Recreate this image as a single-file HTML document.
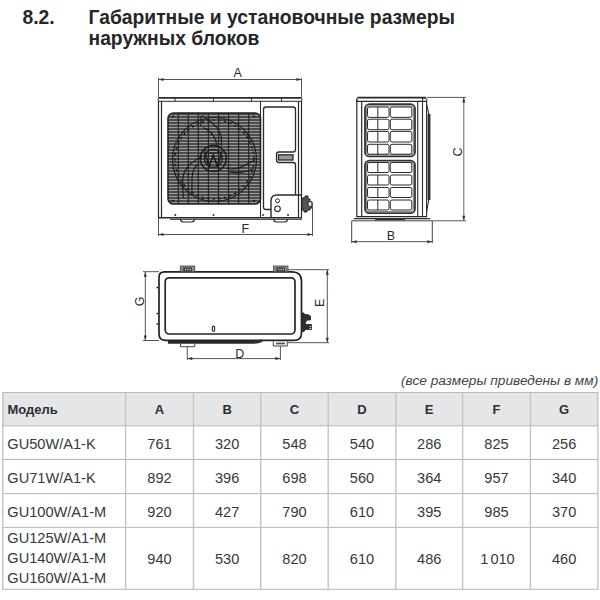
<!DOCTYPE html>
<html><head><meta charset="utf-8">
<style>
html,body{margin:0;padding:0;background:#fff;width:600px;height:600px;overflow:hidden;position:relative;font-family:"Liberation Sans",sans-serif;color:#333}
svg{position:absolute;left:0;top:0}
</style></head><body>

<svg width="600" height="600" viewBox="0 0 600 600">
<defs>
<pattern id="hs" x="0" y="113" width="10" height="3" patternUnits="userSpaceOnUse">
<rect x="0" y="0" width="10" height="3" fill="#4c4c4c"/>
<rect x="0" y="2" width="10" height="1" fill="#9c9c9c"/>
</pattern>
</defs>
<g fill="none" stroke="#2a2a2a" stroke-width="1">
<!-- ===== FRONT VIEW ===== -->
<!-- dim A -->
<line x1="158.5" y1="79.5" x2="301.5" y2="79.5" stroke="#555"/>
<line x1="158.5" y1="78" x2="158.5" y2="97" stroke="#555"/>
<line x1="301.5" y1="78" x2="301.5" y2="97" stroke="#555"/>
<path d="M158.5 79.5 l5 -1.5 v3z M301.5 79.5 l-5 -1.5 v3z" fill="#333" stroke="none"/>
<!-- top cap -->
<path d="M158.5 97.8 H301.5" stroke-width="1.8"/>
<path d="M158.5 101.3 H301.5"/>
<path d="M158.5 97.8 q-1 1.8 0 3.5 M301.5 97.8 q1 1.8 0 3.5"/>
<path d="M175 98 v3 M213.5 98 v3 M251.5 98 v3 M281.5 98 v3"/>
<!-- sides -->
<path d="M158.5 101 V218 M161.5 101 V218" stroke-width="1.2"/>
<path d="M298.5 101 V218 M301.5 101 V218" stroke-width="1.2"/>
<path d="M260.5 101 V218"/>
<!-- bottom -->
<path d="M158.5 217.8 H302" stroke-width="1.6"/>
<path d="M170 219.3 H302"/>
<!-- feet -->
<path d="M180.5 219 q0 3 3 3 h8 q3 0 3 -3 M273.5 219 q0 3 3 3 h8 q3 0 3 -3" stroke-width="1.2"/>
<path d="M175.3 215 h0.1 M213.5 215 h0.1 M263 215 h0.1 M288 215 h0.1" stroke-width="1.8" stroke-linecap="round"/>
<!-- grille -->
<rect x="168" y="113" width="92.5" height="91" rx="5.5" fill="url(#hs)" stroke="#222" stroke-width="1.6"/>
<path d="M178.3 113 V204 M188.3 113 V204 M198.3 113 V204 M208.4 113 V204 M218.5 113 V204 M228.5 113 V204 M238.6 113 V204 M248.7 113 V204" stroke="#262626" stroke-width="1.2"/>
<circle cx="214.5" cy="159.5" r="42" stroke="#1e1e1e" stroke-width="1.2"/>
<circle cx="214.5" cy="159.5" r="39.5" stroke="#1e1e1e" stroke-width="1.6" stroke-dasharray="2 2.5" pathLength="200" stroke-dashoffset="0"/>
<circle cx="213.3" cy="158.5" r="13" stroke="#1a1a1a" stroke-width="1.5"/>
<circle cx="213.3" cy="158.5" r="9" stroke="#1e1e1e" stroke-width="1.3"/>
<path d="M204.5 151 L209 166.5 L213.3 155 L217.6 166.5 L222 151" stroke="#1a1a1a" stroke-width="1.5"/>
<path d="M207 153 H219.6" stroke="#1a1a1a" stroke-width="1.1"/>
<path d="M200.8 127 V116 H205" stroke="#1e1e1e"/>
<path d="M205 118 C212 122 219 128 221 136 C222 140 221.5 143 221 146" stroke="#1e1e1e" stroke-width="1.2"/>
<path d="M203.3 127.6 C209 130 214 135 216 141 L216.5 146" stroke="#1e1e1e" stroke-width="1.2"/>
<path d="M225.5 168 C231 170 240 169 247 164.3 C250 162 252 161 254.5 160.5" stroke="#1e1e1e" stroke-width="1.2"/>
<path d="M229.3 171.8 C235 173 245 172.5 253.6 169" stroke="#1e1e1e" stroke-width="1.2"/>
<path d="M202 157 C194 160 187 166 184 173 C182 179 182.5 190 183.5 198" stroke="#1e1e1e" stroke-width="1.2"/>
<path d="M198 164 C195 167 193 170 192.5 174 C191.5 182 192 190 192 196" stroke="#1e1e1e" stroke-width="1.2"/>
<path d="M172 117 l2 -1.5 M255 117 l-2 -1.5 M172 200 l2 1.5 M255 200 l-2 1.5" stroke="#111" stroke-width="1.5"/>
<!-- door -->
<path d="M266 107 H293 Q295.5 107 295.5 109.5 V149.5 Q295.5 152 293 152 H279 Q276.5 152 276.5 154.5 V160 Q276.5 162.5 279 162.5 H293 Q295.5 162.5 295.5 165 V195 M263.5 109.5 Q263.5 107 266 107 M263.5 109.5 V207 Q263.5 209.5 266 209.5 H271" stroke-width="1.3"/>
<rect x="278.5" y="154.8" width="14.5" height="5.2" fill="#999" stroke-width="1.3"/>
<!-- valve box -->
<path d="M271 217.5 V201 Q271 195 277 195 H301.5" stroke-width="1.4"/>
<circle cx="277.5" cy="200.8" r="2"/>
<circle cx="277.5" cy="208.8" r="2.8" stroke-width="1.2"/>
<!-- valves -->
<path d="M302 198 h3 v-2 h3 v3 h2 v3 h2 v6 h-2 v2 h-3 v2 h-3 v-2 h-2 z" fill="#555" stroke="#222"/>
<rect x="308" y="201.5" width="4" height="5" rx="1.5" fill="#ddd" stroke="#222"/>
<!-- dim F -->
<line x1="158.5" y1="234.5" x2="312.5" y2="234.5" stroke="#555"/>
<line x1="158.5" y1="218" x2="158.5" y2="236" stroke="#555"/>
<line x1="312.5" y1="205" x2="312.5" y2="236" stroke="#555"/>
<path d="M158.5 234.5 l5 -1.5 v3z M312.5 234.5 l-5 -1.5 v3z" fill="#333" stroke="none"/>
</g>
<g font-family="Liberation Sans" font-size="12.5" fill="#2a2a2a">
<text x="233.5" y="77.3">A</text>
<text x="241.5" y="232.8">F</text>
</g>

<g fill="none" stroke="#2a2a2a" stroke-width="1">
<!-- ===== SIDE VIEW ===== -->
<path d="M357.5 97.6 H426" stroke-width="1.6"/>
<path d="M357.5 97.6 q-1.3 1.8 -0.5 3.8 M422.5 97.8 H425 q1.8 0 1.8 1.8 V101.5"/>
<path d="M356.5 101.4 H427" stroke-width="1.2"/>
<path d="M356.8 99 V217 M361.7 101.4 V217" stroke-width="1.2"/>
<path d="M417.75 101.4 V217 M422.5 97.8 V217 M426.6 101.4 V217" stroke-width="1.1"/>
<path d="M426.8 104.5 L428.7 113.5 V200 L426.6 212" stroke-width="1.1"/>
<rect x="427.6" y="114" width="2.8" height="86" fill="#2e2e2e" stroke="none"/>
<rect x="365" y="104.2" width="50" height="52.2" rx="4.5" stroke="#333" stroke-width="1.8"/>
<rect x="366.6" y="105.8" width="46.8" height="49" rx="3.2" stroke="#8a8a8a" stroke-width="1.2"/>
<rect x="367.5" y="107" width="21.5" height="10.400000000000006" rx="1.8"/>
<rect x="390.3" y="107" width="21.5" height="10.400000000000006" rx="1.8"/>
<path d="M377.8 107 V117.4"/>
<rect x="367.5" y="119.2" width="21.5" height="10.499999999999986" rx="1.8"/>
<rect x="390.3" y="119.2" width="21.5" height="10.499999999999986" rx="1.8"/>
<path d="M377.8 119.2 V129.7"/>
<rect x="367.5" y="131.4" width="21.5" height="10.599999999999994" rx="1.8"/>
<rect x="390.3" y="131.4" width="21.5" height="10.599999999999994" rx="1.8"/>
<path d="M377.8 131.4 V142"/>
<rect x="367.5" y="144.3" width="21.5" height="9.899999999999977" rx="1.8"/>
<rect x="390.3" y="144.3" width="21.5" height="9.899999999999977" rx="1.8"/>
<path d="M377.8 144.3 V154.2"/>
<rect x="365" y="160.6" width="50" height="52.6" rx="4.5" stroke="#333" stroke-width="1.8"/>
<rect x="366.6" y="162.2" width="46.8" height="49.4" rx="3.2" stroke="#8a8a8a" stroke-width="1.2"/>
<rect x="367.5" y="162.5" width="21.5" height="10.0" rx="1.8"/>
<rect x="390.3" y="162.5" width="21.5" height="10.0" rx="1.8"/>
<path d="M377.8 162.5 V172.5"/>
<rect x="367.5" y="175" width="21.5" height="10" rx="1.8"/>
<rect x="390.3" y="175" width="21.5" height="10" rx="1.8"/>
<path d="M377.8 175 V185"/>
<rect x="367.5" y="187.5" width="21.5" height="10.0" rx="1.8"/>
<rect x="390.3" y="187.5" width="21.5" height="10.0" rx="1.8"/>
<path d="M377.8 187.5 V197.5"/>
<rect x="367.5" y="200" width="21.5" height="10" rx="1.8"/>
<rect x="390.3" y="200" width="21.5" height="10" rx="1.8"/>
<path d="M377.8 200 V210"/>

<path d="M356.5 216.7 H427" stroke-width="1.2"/>
<path d="M354 218.6 H430" stroke-width="1.2"/>
<path d="M375 219.3 H405" stroke-width="2" stroke="#333"/>
<path d="M351.7 243 V220.8 H432.3 V243" stroke="#444"/>
<!-- dim B -->
<line x1="351.7" y1="241.7" x2="432.3" y2="241.7" stroke="#555"/>
<path d="M351.7 241.7 l5 -1.5 v3z M432.3 241.7 l-5 -1.5 v3z" fill="#333" stroke="none"/>
<!-- dim C -->
<path d="M427 97.4 H466 M432.5 220.8 H466" stroke="#555"/>
<line x1="463.8" y1="97.4" x2="463.8" y2="220.8" stroke="#666"/>
<path d="M463.8 97.4 l-1.5 5 h3z M463.8 220.8 l-1.5 -5 h3z" fill="#333" stroke="none"/>
</g>
<g font-family="Liberation Sans" font-size="12.5" fill="#2a2a2a">
<text x="386.8" y="239.6">B</text>
<text transform="translate(461.8 156.6) rotate(-90)">C</text>
</g>

<g fill="none" stroke="#222" stroke-width="1">
<!-- ===== TOP VIEW ===== -->
<path d="M159 277.3 V334 Q159 340.4 165.5 340.4 H294 Q301.5 340.4 301.5 333 V281 Q301.5 271.8 292 271.8 H164.5 Q159 271.8 159 277.3z" stroke-width="1.7"/>
<rect x="165.2" y="277.8" width="129.8" height="56.2" rx="4" stroke="#262626" stroke-width="1.7"/>
<!-- tabs top -->
<rect x="180.3" y="266" width="14.5" height="5.8" fill="#8a8a8a" stroke="#444" stroke-width="0.8"/>
<rect x="273.5" y="266" width="14.5" height="5.8" fill="#8a8a8a" stroke="#444" stroke-width="0.8"/>
<rect x="183.3" y="267.5" width="8.5" height="4" fill="#333" stroke="none"/>
<rect x="276.5" y="267.5" width="8.5" height="4" fill="#333" stroke="none"/>
<path d="M185 269.5 h1.2 M187.3 269.5 h1.2 M189.6 269.5 h1.2 M278.2 269.5 h1.2 M280.5 269.5 h1.2 M282.8 269.5 h1.2" stroke="#ddd" stroke-width="1.6"/>
<!-- bottom band -->
<path d="M168 342.3 H254 Q258 342.3 262 340.5" stroke-width="3" stroke="#2a2a2a"/>
<path d="M180.5 344 V346.7 H194.8 V344 M273.3 341.5 V346 H287.3 V341.5" stroke="#444"/>
<path d="M276 343.5 h9" stroke="#555" stroke-width="1.8"/>
<!-- left marks -->
<path d="M158 287.5 h-1.5 M158 313.5 h-1.5 M158 324 h-1.5" stroke-width="1.3"/>
<!-- drain -->
<rect x="212.3" y="326" width="2.3" height="5.3" rx="1.1" stroke-width="1.1"/>
<!-- valves -->
<path d="M301.5 313 h2.5 v1.5 h3.5 l3 1.5 v4 h-3 l-2 2 v2.5 h6 v5 h-6 l-1.5 2 h-2.5z" fill="#2e2e2e" stroke="#222" stroke-width="0.8"/>
<path d="M309.5 326.5 h1.5 M309.5 328.5 h1.5" stroke="#ddd" stroke-width="1"/>
<!-- dim G -->
<path d="M143 271.7 H159 M143 340.5 H159" stroke="#555"/>
<line x1="145.3" y1="271.7" x2="145.3" y2="340.5" stroke="#555"/>
<path d="M145.3 271.7 l-1.5 5 h3z M145.3 340.5 l-1.5 -5 h3z" fill="#333" stroke="none"/>
<!-- dim E -->
<path d="M288 269.7 H329 M287.5 342.7 H329" stroke="#555"/>
<line x1="327.3" y1="269.7" x2="327.3" y2="342.7" stroke="#555"/>
<path d="M327.3 269.7 l-1.5 5 h3z M327.3 342.7 l-1.5 -5 h3z" fill="#333" stroke="none"/>
<!-- dim D -->
<path d="M187.3 346.7 V360 M280.4 346 V360" stroke="#555"/>
<line x1="187.3" y1="358.6" x2="280.4" y2="358.6" stroke="#555"/>
<path d="M187.3 358.6 l5 -1.5 v3z M280.4 358.6 l-5 -1.5 v3z" fill="#333" stroke="none"/>
</g>
<g font-family="Liberation Sans" font-size="12.5" fill="#2a2a2a">
<text x="235.2" y="357.5">D</text>
<text transform="translate(144 306.2) rotate(-90)">G</text>
<text transform="translate(323.5 307) rotate(-90)">E</text>
</g>
</svg>

<svg width="600" height="600" viewBox="0 0 600 600" style="position:absolute;left:0;top:0">
<rect x="2.75" y="392.5" width="595.05" height="33.30000000000001" fill="#e5e6e8"/>
<rect x="2.0" y="392.0" width="596.55" height="1" fill="#b9b9b9"/>
<rect x="2.0" y="425.3" width="596.55" height="1" fill="#b9b9b9"/>
<rect x="2.0" y="459.0" width="596.55" height="1" fill="#b9b9b9"/>
<rect x="2.0" y="493.1" width="596.55" height="1" fill="#b9b9b9"/>
<rect x="2.0" y="526.9" width="596.55" height="1" fill="#b9b9b9"/>
<rect x="2.0" y="588.8" width="596.55" height="1" fill="#b9b9b9"/>
<rect x="2.05" y="392.0" width="1.4" height="197.79999999999995" fill="#c4c4c4"/>
<rect x="124.89999999999999" y="392.0" width="1.4" height="197.79999999999995" fill="#c4c4c4"/>
<rect x="192.8" y="392.0" width="1.4" height="197.79999999999995" fill="#c4c4c4"/>
<rect x="260.1" y="392.0" width="1.4" height="197.79999999999995" fill="#c4c4c4"/>
<rect x="327.5" y="392.0" width="1.4" height="197.79999999999995" fill="#c4c4c4"/>
<rect x="395.1" y="392.0" width="1.4" height="197.79999999999995" fill="#c4c4c4"/>
<rect x="461.90000000000003" y="392.0" width="1.4" height="197.79999999999995" fill="#c4c4c4"/>
<rect x="529.6999999999999" y="392.0" width="1.4" height="197.79999999999995" fill="#c4c4c4"/>
<rect x="597.0999999999999" y="392.0" width="1.4" height="197.79999999999995" fill="#c4c4c4"/>
<g font-family="Liberation Sans" font-weight="bold" font-size="13" fill="#2e2e2e">
<text x="7.5" y="413.7">Модель</text>
<text x="159.55" y="413.7" text-anchor="middle">A</text>
<text x="227.15" y="413.7" text-anchor="middle">B</text>
<text x="294.50" y="413.7" text-anchor="middle">C</text>
<text x="362.00" y="413.7" text-anchor="middle">D</text>
<text x="429.20" y="413.7" text-anchor="middle">E</text>
<text x="496.50" y="413.7" text-anchor="middle">F</text>
<text x="564.10" y="413.7" text-anchor="middle">G</text>
</g>
<g font-family="Liberation Sans" font-size="14.6" fill="#383838">
<text x="7.3" y="448.7">GU50W/A1-K</text>
<text x="159.55" y="448.7" text-anchor="middle">761</text>
<text x="227.15" y="448.7" text-anchor="middle">320</text>
<text x="294.50" y="448.7" text-anchor="middle">548</text>
<text x="362.00" y="448.7" text-anchor="middle">540</text>
<text x="429.20" y="448.7" text-anchor="middle">286</text>
<text x="496.50" y="448.7" text-anchor="middle">825</text>
<text x="564.10" y="448.7" text-anchor="middle">256</text>
<text x="7.3" y="482.9">GU71W/A1-K</text>
<text x="159.55" y="482.9" text-anchor="middle">892</text>
<text x="227.15" y="482.9" text-anchor="middle">396</text>
<text x="294.50" y="482.9" text-anchor="middle">698</text>
<text x="362.00" y="482.9" text-anchor="middle">560</text>
<text x="429.20" y="482.9" text-anchor="middle">364</text>
<text x="496.50" y="482.9" text-anchor="middle">957</text>
<text x="564.10" y="482.9" text-anchor="middle">340</text>
<text x="7.3" y="516.5">GU100W/A1-M</text>
<text x="159.55" y="516.5" text-anchor="middle">920</text>
<text x="227.15" y="516.5" text-anchor="middle">427</text>
<text x="294.50" y="516.5" text-anchor="middle">790</text>
<text x="362.00" y="516.5" text-anchor="middle">610</text>
<text x="429.20" y="516.5" text-anchor="middle">395</text>
<text x="496.50" y="516.5" text-anchor="middle">985</text>
<text x="564.10" y="516.5" text-anchor="middle">370</text>
<text x="7.3" y="543.1">GU125W/A1-M</text>
<text x="7.3" y="563.3">GU140W/A1-M</text>
<text x="7.3" y="583.4">GU160W/A1-M</text>
<text x="159.55" y="564" text-anchor="middle">940</text>
<text x="227.15" y="564" text-anchor="middle">530</text>
<text x="294.50" y="564" text-anchor="middle">820</text>
<text x="362.00" y="564" text-anchor="middle">610</text>
<text x="429.20" y="564" text-anchor="middle">486</text>
<text x="497.50" y="564" text-anchor="middle">1<tspan dx="2">010</tspan></text>
<text x="564.10" y="564" text-anchor="middle">460</text>
</g>
<text x="401" y="385.3" font-family="Liberation Sans" font-style="italic" font-size="13.7" fill="#444">(все размеры приведены в мм)</text>
</svg>
<svg width="600" height="600" viewBox="0 0 600 600">
<g font-family="Liberation Sans" font-weight="bold" font-size="19.3" fill="#262626">
<text x="22.5" y="23.8">8.2.</text>
<text x="88.5" y="23.8">Габаритные и установочные размеры</text>
<text x="88.5" y="44.8">наружных блоков</text>
</g>
</svg>
</body></html>
